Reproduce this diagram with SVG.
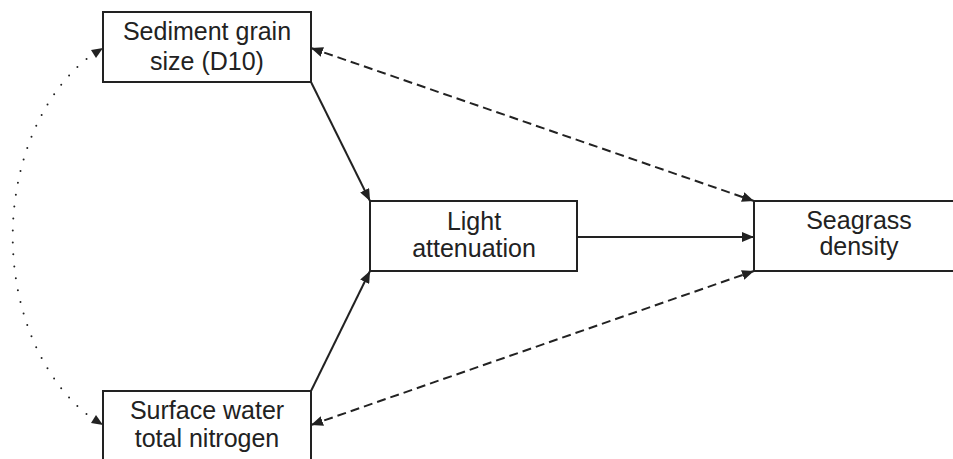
<svg xmlns="http://www.w3.org/2000/svg" width="953" height="459" viewBox="0 0 953 459">
<style>
.box{fill:#fff;stroke:#222;stroke-width:2}
.t{font-family:"Liberation Sans",Arial,sans-serif;font-size:25px;fill:#222;text-anchor:middle}
.c{fill:none;stroke:#222;stroke-width:2}
.d{stroke-dasharray:9 5}
.o{stroke-dasharray:0 12;stroke-linecap:round;stroke-width:2}
</style>
<defs>
<marker id="ah" viewBox="0 0 12 10" refX="12" refY="5" markerWidth="12" markerHeight="10" markerUnits="userSpaceOnUse" orient="auto-start-reverse">
<path d="M0,0 L12,5 L0,10 Z" fill="#222"/>
</marker>
</defs>
<rect width="953" height="459" fill="#fff"/>
<g id="connectors">
<line class="c" x1="311" y1="82" x2="370" y2="201" marker-end="url(#ah)"/>
<line class="c" x1="311" y1="391" x2="370" y2="271" marker-end="url(#ah)"/>
<line class="c" x1="577" y1="237" x2="754" y2="237" marker-end="url(#ah)"/>
<line class="c d" x1="311" y1="48" x2="754" y2="201" marker-start="url(#ah)" marker-end="url(#ah)"/>
<line class="c d" x1="311" y1="425" x2="754" y2="271" marker-start="url(#ah)" marker-end="url(#ah)"/>
<path class="c o" d="M96,52 A150,206 0 0 0 96,421"/>
<path d="M103,48 L91,50 L96,58 Z" fill="#222"/>
<path d="M103,425 L96,415 L91,423 Z" fill="#222"/>
</g>
<g id="sediment">
<rect class="box" x="103" y="12" width="208" height="70"/>
<text class="t" x="207" y="40">Sediment grain</text>
<text class="t" x="207" y="70">size (D10)</text>
</g>
<g id="nitrogen">
<rect class="box" x="103" y="391" width="208" height="80"/>
<text class="t" x="207" y="419">Surface water</text>
<text class="t" x="207" y="447">total nitrogen</text>
</g>
<g id="light">
<rect class="box" x="370" y="201" width="207" height="70"/>
<text class="t" x="474" y="230">Light</text>
<text class="t" x="474" y="257">attenuation</text>
</g>
<g id="seagrass">
<rect class="box" x="754" y="201" width="210" height="70"/>
<text class="t" x="859" y="229">Seagrass</text>
<text class="t" x="859" y="255">density</text>
</g>
</svg>
